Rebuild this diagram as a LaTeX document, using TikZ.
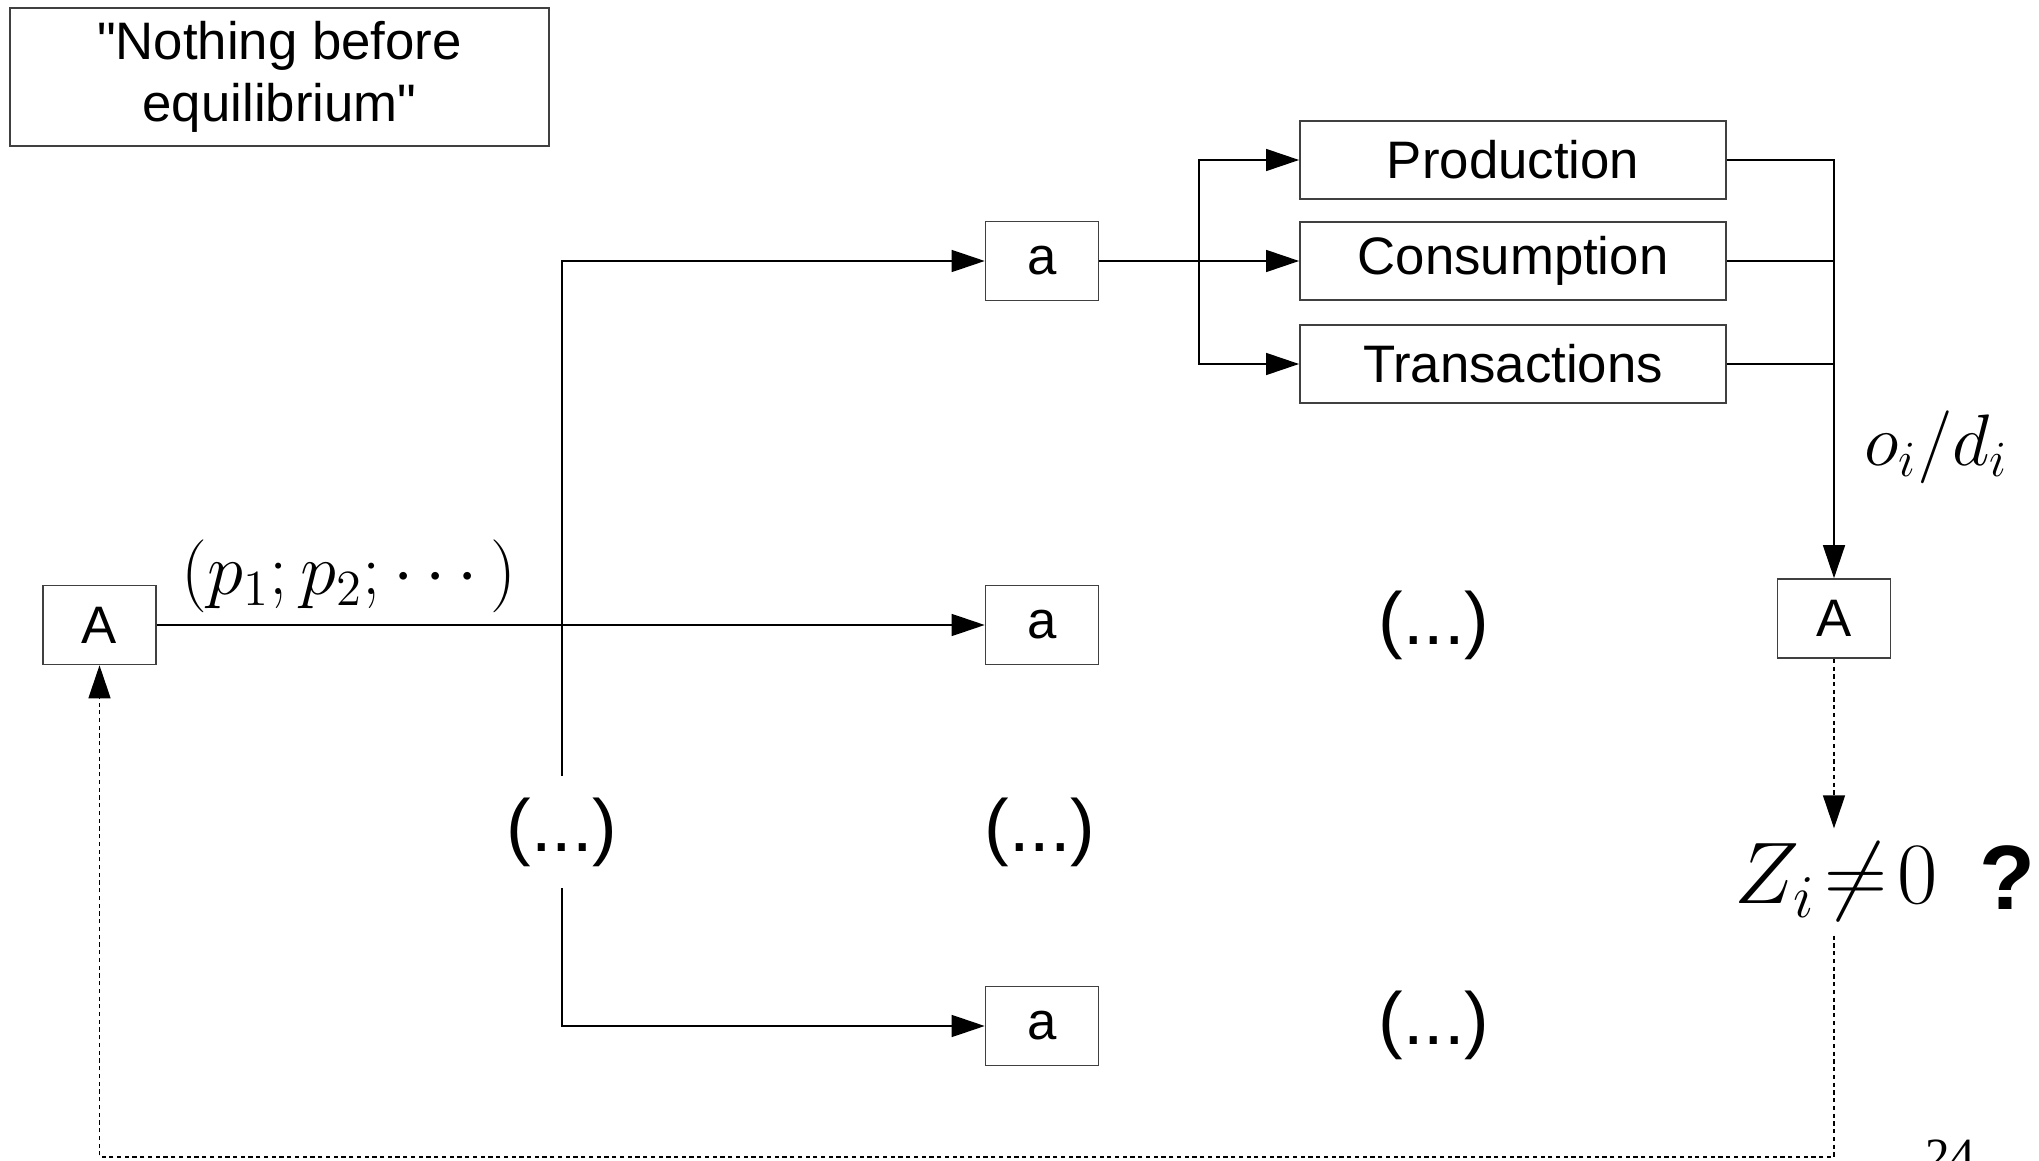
\documentclass[tikz,border=0pt]{standalone}
\usepackage{amsmath}
\usepackage[no-math]{fontspec}
\setmainfont{Liberation Sans}
\newfontfamily\pagefont{Liberation Serif}
\usetikzlibrary{arrows.meta}
\tikzset{%
  abox/.style={draw=black!75,line width=0.45pt,minimum width=1.13cm,minimum height=0.79cm,inner sep=0,font=\fontsize{15}{17}\selectfont},
  wbox/.style={abox,minimum width=4.26cm,minimum height=0.78cm},
  more/.style={inner sep=6pt,font=\fontsize{21}{24}\selectfont},
  link/.style={line width=0.4pt},
  tip/.style={link,-{Triangle[length=3.3mm,width=2.2mm]}},
  dlink/.style={line width=0.4pt,dash pattern=on 1.2pt off 1pt}
}

\begin{document}
\begin{tikzpicture}[x=0.01cm,y=-0.01cm]
    \useasboundingbox (0,0) rectangle (2039,1161);
    \path
      (279.5,77) node (note)[abox,minimum width=5.39cm,minimum height=1.38cm,align=center,font=\fontsize{15}{17.5}\selectfont]{\textquotedbl Nothing before\\equilibrium\textquotedbl}
      (99.5,625) node (A1)[abox]{A}
      (1042,261) node (a1)[abox]{a}
      (1042,625) node (a2)[abox]{a}
      (1042,1026) node (a3)[abox]{a}
      (1513,160) node (prod)[wbox]{Production}
      (1513,261) node (cons)[wbox]{Consumption}
      (1513,364) node (trans)[wbox]{Transactions}
      (1834,618.5) node (A2)[abox]{A}
      (562,832) node (d1)[more]{(...)}
      (1040,832) node (d2)[more]{(...)}
      (1434,625) node (d3)[more]{(...)}
      (1434,1025) node (d4)[more]{(...)}
      (1836,882) node (z)[inner sep=4pt,font=\fontsize{26}{30}\selectfont]{$Z_i\!\neq\! 0$}
      (2007,878) node (q)[font=\fontsize{26}{30}\selectfont\bfseries]{?};
    \coordinate (split) at (1199,261);
    \coordinate (base) at (0,1157);
    % prices sent to agents
    \draw[tip] (A1.east) -- node[above=0pt,pos=0.232,font=\fontsize{20}{24}\selectfont]{$(p_1;p_2;\cdots)$} (a2.west);
    \draw[tip] (d1.north) |- (a1.west);
    \draw[tip] (d1.south) |- (a3.west);
    % agent decisions
    \draw[tip] (a1.east) -- (cons.west);
    \draw[tip] (split) |- (prod.west);
    \draw[tip] (split) |- (trans.west);
    \draw[link] (cons.east) -- (cons.east -| A2);
    \draw[link] (trans.east) -- (trans.east -| A2);
    \draw[tip] (prod.east) -| node[pos=0.844,right=5pt,font=\fontsize{20}{24}\selectfont]{$o_i/d_i$} (A2.north);
    % excess demand and loop back
    \draw[dlink,tip] (A2.south) -- (A2.south |- z.north);
    \draw[dlink,tip] (A2.south |- z.south) -- (A2.south |- base) -| (A1.south);
    \node (page)[anchor=north,inner sep=0,font=\pagefont\fontsize{14}{16}\selectfont] at (1950,1139) {24};
\end{tikzpicture}
\end{document}
